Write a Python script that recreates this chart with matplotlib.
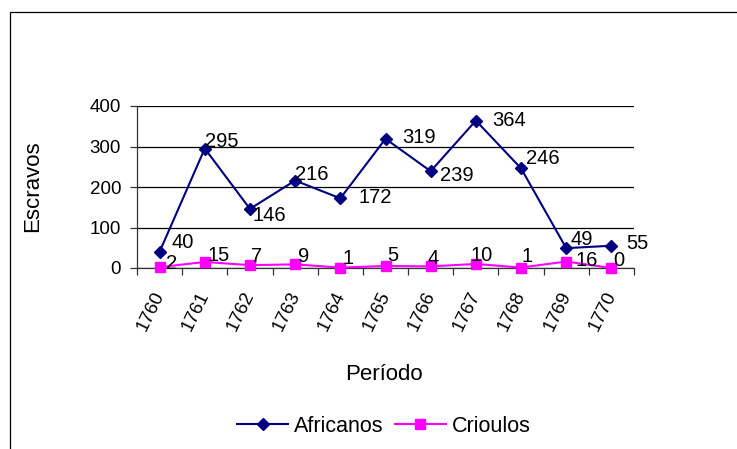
import matplotlib
matplotlib.use("Agg")
import matplotlib.pyplot as plt
from matplotlib.patches import Rectangle
from matplotlib.lines import Line2D
from matplotlib.transforms import ScaledTranslation

plt.rcParams['font.family'] = ['Liberation Sans', 'DejaVu Sans']

years = ['1760', '1761', '1762', '1763', '1764', '1765', '1766', '1767', '1768', '1769', '1770']
africanos = [40, 295, 146, 216, 172, 319, 239, 364, 246, 49, 55]
crioulos = [2, 15, 7, 9, 1, 5, 4, 10, 1, 16, 0]
yticks = [0, 100, 200, 300, 400]

# label offsets in pixels (style only)
af_off = [(12, 9), (0, 7), (3, -7), (0, 6), (18, 1), (17, 1), (9, -4), (16, 0), (5, 10), (4, 9), (15, 2)]
cr_off = [(6, 4), (3, 6), (1, 9), (3, 8), (2, 9), (2, 10), (-3, 8), (-5, 8), (0, 11), (9, 1), (2, 7)]

W, H = 737, 449
fig = plt.figure(figsize=(W / 100, H / 100), dpi=100)
fig.patch.set_facecolor('white')

# outer chart border (partly cropped)
fig.patches.append(Rectangle((10 / W, -0.1), 1.2, (H - 12) / H + 0.1, transform=fig.transFigure,
                             fill=False, edgecolor='black', linewidth=0.9))

ax = fig.add_axes([137 / W, (H - 268) / H, (634 - 137) / W, (268 - 106) / H])
x = list(range(len(years)))

ax.plot(x, africanos, color='#000080', lw=1.5, marker='D', ms=6.2, mfc='#000080', mec='#000080',
        label='Africanos', zorder=3, clip_on=False)
ax.plot(x, crioulos, color='#FF00FF', lw=1.5, marker='s', ms=6.8, mfc='#FF00FF', mec='#FF00FF',
        label='Crioulos', zorder=3, clip_on=False)

for i, v in enumerate(africanos):
    ax.annotate(str(v), (i, v), xytext=af_off[i], textcoords='offset pixels',
                ha='left', va='center', fontsize=14.5, color='black')
for i, v in enumerate(crioulos):
    ax.annotate(str(v), (i, v), xytext=cr_off[i], textcoords='offset pixels',
                ha='left', va='center', fontsize=14.5, color='black')

ax.set_xlim(-0.5, len(years) - 0.5)
ax.set_ylim(0, 400)
ax.set_yticks(yticks)
ax.set_yticklabels([str(t) for t in yticks], fontsize=13.5)
ax.yaxis.grid(True, color='black', lw=0.9)
ax.set_axisbelow(True)

ax.set_xticks([i - 0.5 for i in range(len(years) + 1)])
ax.set_xticklabels([])
ax.tick_params(axis='x', which='major', length=5, width=0.9, color='#333333')
ax.tick_params(axis='y', length=5, width=0.9, color='#333333', pad=6.5)

# category labels, rotated
lab_tr = ax.get_xaxis_transform() + ScaledTranslation(8 / 100, -21 / 100, fig.dpi_scale_trans)
for i, yr in enumerate(years):
    ax.text(i, 0, yr, transform=lab_tr, rotation=64, ha='right', va='top', fontsize=13.5,
            clip_on=False)

for s in ['top', 'right']:
    ax.spines[s].set_visible(False)
for s in ['left', 'bottom']:
    ax.spines[s].set_color('#333333')
    ax.spines[s].set_linewidth(0.9)

fig.text(33 / W, 1 - 186 / H, 'Escravos', ha='center', va='center', rotation=90, fontsize=16)
fig.text(384 / W, 1 - 375 / H, 'Período', ha='center', va='center', fontsize=16)

handles = [Line2D([], [], color='#000080', lw=1.5, marker='D', ms=6.2),
           Line2D([], [], color='#FF00FF', lw=1.5, marker='s', ms=6.8)]
fig.legend(handles, ['Africanos', 'Crioulos'], loc='center', bbox_to_anchor=(384 / W, 1 - 426 / H),
           ncol=2, frameon=False, fontsize=15.5, handlelength=2.37, handletextpad=0.28,
           columnspacing=0.5, borderpad=0, borderaxespad=0)

fig.savefig('out.png', dpi=100)
